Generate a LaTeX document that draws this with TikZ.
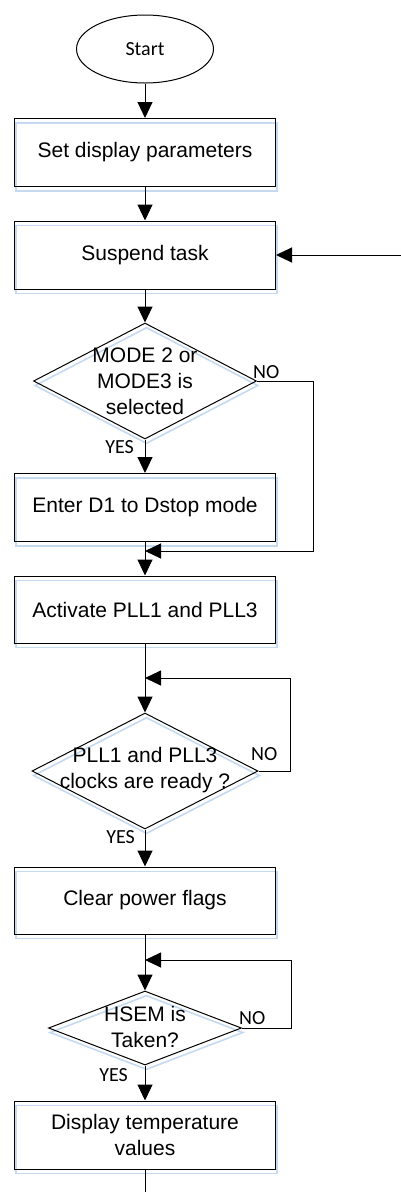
\documentclass[tikz,border=0pt]{standalone}
\usepackage{fontspec}
\setmainfont{Liberation Sans}
\newfontfamily\labelfont{Carlito}
\usetikzlibrary{shapes.geometric,arrows.meta}
\definecolor{shadowblue}{HTML}{C5D9F1}
\tikzset{
  outline/.style={draw=black, line width=1pt},
  softshadow/.style={preaction={draw=shadowblue, line width=1.6pt,
      transform canvas={xshift=1.5pt,yshift=-4.5pt}}},
  stepbox/.style={rectangle, outline, softshadow, minimum width=261pt,
      minimum height=68pt, inner sep=0pt, align=center,
      font=\fontsize{21}{26}\selectfont},
  decision/.style={diamond, outline, softshadow, inner sep=0pt},
  dtext/.style={align=center, inner sep=0pt, font=\fontsize{21}{26}\selectfont},
  terminal/.style={ellipse, outline, minimum width=137pt, minimum height=68pt,
      inner sep=0pt, font=\labelfont\fontsize{20}{24}\selectfont},
  tag/.style={inner sep=0pt, font=\labelfont\fontsize{20}{24}\selectfont},
  link/.style={line width=1pt, -{Triangle[length=16pt,width=15pt]}},
  wire/.style={line width=1pt},
}
\begin{document}
\begin{tikzpicture}[x=1pt,y=-1pt]
\useasboundingbox (0,0) rectangle (401,1192);

% main column of steps
\node[terminal] (start) at (145,49) {Start};
\node[stepbox] (b1) at (145,152.5) {Set display parameters};
\node[stepbox] (b2) at (145,255) {Suspend task};
\node[decision, minimum width=223pt, minimum height=116pt] (d1) at (145,381) {};
\node[dtext] (d1t) at (145,381) {MODE 2 or\\MODE3 is\\selected};
\node[stepbox] (b3) at (145,507.5) {Enter D1 to Dstop mode};
\node[stepbox, minimum height=67pt] (b4) at (145,609.5) {Activate PLL1 and PLL3};
\node[decision, minimum width=226pt, minimum height=116pt] (d2) at (145,771) {};
\node[dtext] (d2t) at (145,770) {PLL1 and PLL3\\clocks are ready ?};
\node[stepbox, minimum height=67pt] (b5) at (145,900.5) {Clear power flags};
\node[decision, minimum width=193pt, minimum height=74pt] (d3) at (145,1028) {};
\node[dtext] (d3t) at (145,1027) {HSEM is\\Taken?};
\node[stepbox] (b6) at (145,1135) {Display temperature\\values};

% branch labels
\node[tag, anchor=east] (yes1) at (134,447) {YES};
\node[tag, anchor=west] (no1) at (253,372) {NO};
\node[tag, anchor=east] (yes2) at (135,837) {YES};
\node[tag, anchor=west] (no2) at (251,754) {NO};
\node[tag, anchor=east] (yes3) at (128,1075) {YES};
\node[tag, anchor=west] (no3) at (239,1018) {NO};

% junctions and free ends
\coordinate (entry) at (401,255);
\coordinate (exit) at (145,1192);
\coordinate (m1) at (145,551);
\coordinate (c1) at (313,381);
\coordinate (m2) at (145,678);
\coordinate (c2) at (290,771);
\coordinate (m3) at (145,960);
\coordinate (c3) at (291,1028);

% connectors
\draw[link] (start) -- (b1);
\draw[link] (b1) -- (b2);
\draw[link] (entry) -- (b2.east);
\draw[link] (b2) -- (d1);
\draw[link] (d1) -- (b3);
\draw[link] (d1.east) -- (c1) |- (m1);
\draw[link] (b3) -- (b4);
\draw[link] (b4) -- (d2);
\draw[link] (d2.east) -- (c2) |- (m2);
\draw[link] (d2) -- (b5);
\draw[link] (b5) -- (d3);
\draw[link] (d3.east) -- (c3) |- (m3);
\draw[link] (d3) -- (b6);
\draw[wire] (b6) -- (exit);
\end{tikzpicture}
\end{document}
